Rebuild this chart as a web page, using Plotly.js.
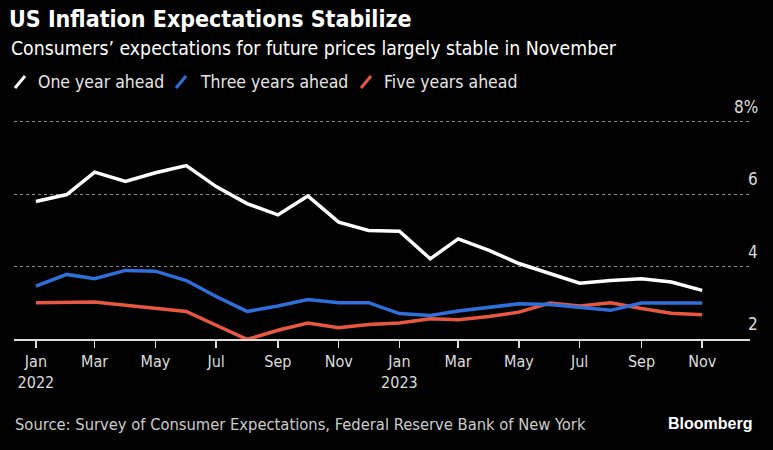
<!DOCTYPE html>
<html>
<head>
<meta charset="utf-8">
<script src="https://cdn.plot.ly/plotly-3.0.1.min.js"></script>
<style>html,body{margin:0;padding:0;background:#000;}#chart{width:773px;height:450px;}</style>
</head>
<body>
<div id="chart"></div>
<script>
const months = ["2022-01-01","2022-02-01","2022-03-01","2022-04-01","2022-05-01","2022-06-01","2022-07-01","2022-08-01","2022-09-01","2022-10-01","2022-11-01","2022-12-01",
"2023-01-01","2023-02-01","2023-03-01","2023-04-01","2023-05-01","2023-06-01","2023-07-01","2023-08-01","2023-09-01","2023-10-01","2023-11-01"];
const oneYear = [5.80,5.99,6.61,6.35,6.59,6.79,6.21,5.74,5.43,5.95,5.23,5.00,4.98,4.22,4.77,4.45,4.09,3.81,3.55,3.62,3.67,3.58,3.35];
const threeYears = [3.47,3.79,3.67,3.90,3.88,3.62,3.18,2.77,2.92,3.10,3.01,3.01,2.71,2.66,2.78,2.89,2.98,2.96,2.89,2.80,3.00,3.00,3.00];
const fiveYears = [3.01,3.01,3.03,2.94,2.86,2.77,2.39,2.00,2.25,2.45,2.32,2.41,2.45,2.57,2.54,2.63,2.75,3.00,2.92,3.01,2.85,2.72,2.68];
const seriesNames = ["One year ahead","Three years ahead","Five years ahead"];
const seriesColors = ["#ffffff","#2e6fdc","#e8573f"];
const xTickVals = ["2022-01-01","2022-03-01","2022-05-01","2022-07-01","2022-09-01","2022-11-01","2023-01-01","2023-03-01","2023-05-01","2023-07-01","2023-09-01","2023-11-01"];
const xTickText = ["Jan<br>2022","Mar","May","Jul","Sep","Nov","Jan<br>2023","Mar","May","Jul","Sep","Nov"];
const yTickVals = [2,4,6,8];
const yTickText = ["2","4","6","8%"];

const FONT = "Liberation Sans Narrow, DejaVu Sans Condensed, sans-serif";
const W = 773, H = 450;
const mL = 14, mR = 23, mT = 118, mB = 107;
const pw = W - mL - mR, ph = H - mT - mB;
const px = x => (x - mL) / pw;
const py = y => (H - mB - y) / ph;
const yMin = 1.9, yMax = 8.1;

const seriesData = [oneYear, threeYears, fiveYears];
const traces = [];
[2,1,0].forEach(i => {
  traces.push({
    x: months, y: seriesData[i], type: "scatter", mode: "lines",
    name: seriesNames[i], line: {color: seriesColors[i], width: 3.5},
    showlegend: false, hoverinfo: "skip"
  });
});

const annotations = [];
const shapes = [];
// y tick labels above gridlines
yTickVals.forEach((v, i) => {
  annotations.push({
    xref: "paper", yref: "y", x: 1, y: v, text: yTickText[i],
    showarrow: false, xanchor: "right", yanchor: "bottom", xshift: 10, yshift: 3,
    font: {family: FONT, size: 17, color: "#dddddd"}
  });
});
// legend
const legendGlyphX = [15, 176, 361];
const legendTextX = [36, 198, 382];
seriesNames.forEach((n, i) => {
  shapes.push({type: "line", xref: "paper", yref: "paper",
    x0: px(legendGlyphX[i]), y0: py(88), x1: px(legendGlyphX[i] + 10), y1: py(76),
    line: {color: seriesColors[i], width: 3}});
  annotations.push({xref: "paper", yref: "paper", x: px(legendTextX[i]), y: py(82),
    text: n, showarrow: false, xanchor: "left", yanchor: "middle",
    font: {family: FONT, size: 17.5, color: "#e6e6e6"}});
});
// subtitle
annotations.push({xref: "paper", yref: "paper", x: px(9), y: py(48), text: "Consumers’ expectations for future prices largely stable in November",
  showarrow: false, xanchor: "left", yanchor: "middle", font: {family: FONT, size: 19.3, color: "#ffffff"}});
// source
annotations.push({xref: "paper", yref: "paper", x: px(13), y: py(424), text: "Source: Survey of Consumer Expectations, Federal Reserve Bank of New York",
  showarrow: false, xanchor: "left", yanchor: "middle", font: {family: FONT, size: 16.4, color: "#cccccc"}});
annotations.push({xref: "paper", yref: "paper", x: px(754), y: py(423), text: "<b>Bloomberg</b>",
  showarrow: false, xanchor: "right", yanchor: "middle", font: {family: "Liberation Sans, Arial, sans-serif", size: 16, color: "#ffffff"}});

const layout = {
  width: W, height: H,
  paper_bgcolor: "#000000", plot_bgcolor: "#000000",
  margin: {l: mL, r: mR, t: mT, b: mB, pad: 0},
  showlegend: false,
  title: {text: "<b>US Inflation Expectations Stabilize</b>", xref: "container", yref: "container",
    x: 9 / W, xanchor: "left", y: 1 - 19 / H, yanchor: "middle",
    font: {family: FONT, size: 23, color: "#ffffff"}},
  xaxis: {
    type: "date", range: ["2021-12-10", "2023-12-19"],
    tickmode: "array", tickvals: xTickVals, ticktext: xTickText,
    showgrid: false, zeroline: false,
    showline: true, linecolor: "#dddddd", linewidth: 1.5,
    ticks: "outside", ticklen: 7, tickwidth: 1.5, tickcolor: "#dddddd",
    anchor: "free", position: (2 - yMin) / (yMax - yMin),
    tickfont: {family: FONT, size: 16, color: "#dddddd"},
    fixedrange: true
  },
  yaxis: {
    range: [yMin, yMax], side: "right",
    tickmode: "array", tickvals: [4, 6, 8],
    showticklabels: false, ticks: "",
    showgrid: true, gridcolor: "#8a8a8a", griddash: "dot", gridwidth: 1,
    zeroline: false, showline: false, fixedrange: true
  },
  shapes: shapes,
  annotations: annotations
};
Plotly.newPlot("chart", traces, layout, {displayModeBar: false, staticPlot: true});
</script>
</body>
</html>
